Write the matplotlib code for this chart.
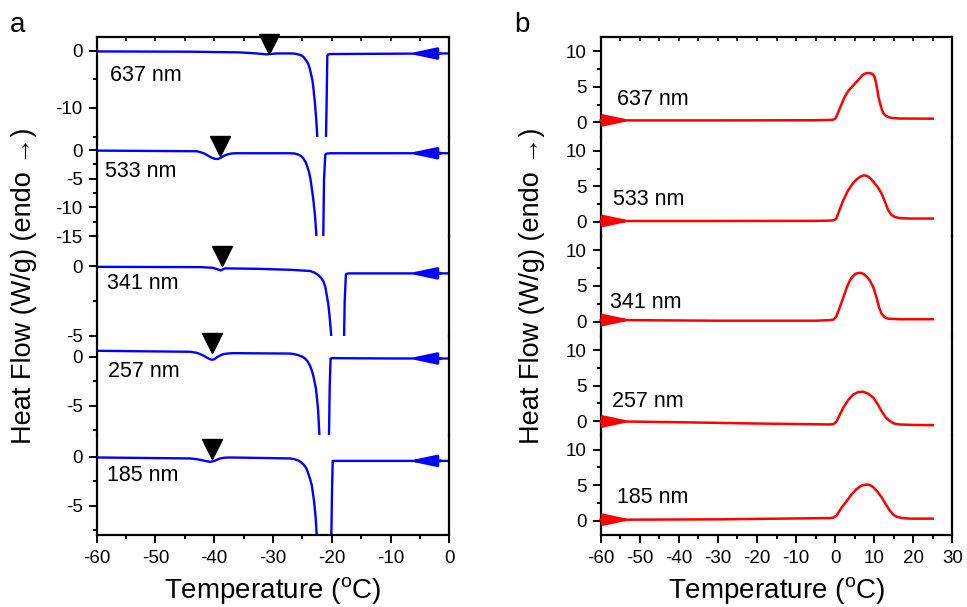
import numpy as np
import matplotlib
matplotlib.use("Agg")
import matplotlib.pyplot as plt
from matplotlib.ticker import MultipleLocator

plt.rcParams["font.family"] = ["Liberation Sans", "DejaVu Sans"]
plt.rcParams["axes.unicode_minus"] = False
plt.rcParams["mathtext.fontset"] = "custom"
plt.rcParams["mathtext.rm"] = "Liberation Sans"

samples = ["637 nm", "533 nm", "341 nm", "257 nm", "185 nm"]

# --- panel a: cooling scans (W/g), spikes run off-scale ---
cool_t_637 = [-60, -44.1, -35.6, -32.8, -31.1, -29.4, -27.1, -26.4, -25.97, -25.5, -25.1,
              -24.8, -24.55, -24.25, -23.99, -23.75, -23.53, -23.3, -23.14, -22.85, -22.63,
              -22.46, -22.35, -21.1, -20.98, -20.86, -20.76, -20.6, -20.3, -10, 0]
cool_hf_637 = [-0.12, -0.17, -0.29, -0.47, -0.64, -0.47, -0.47, -0.5, -0.58, -0.7, -0.87,
               -1.1, -1.45, -1.85, -2.33, -3.1, -4.07, -5.1, -6.4, -9.3, -12.2,
               -15.1, -40, -40, -15, -8.1, -0.87, -0.65, -0.58, -0.52, -0.47]

cool_t_533 = [-60, -43.0, -42.2, -41.6, -41.0, -40.4, -39.9, -39.4, -38.9, -38.3, -37.6,
              -36.9, -36.2, -27.1, -26.3, -25.7, -25.2, -24.8, -24.45, -24.15, -23.85,
              -23.6, -23.14, -22.85, -22.63, -22.5, -21.5, -21.44, -21.32, -21.1, -20.9,
              -20.3, -10, 0]
cool_hf_533 = [-0.09, -0.2, -0.4, -0.65, -1.0, -1.33, -1.52, -1.55, -1.35, -0.98, -0.7,
               -0.58, -0.55, -0.55, -0.6, -0.77, -1.05, -1.5, -2.1, -2.9, -3.9,
               -5.2, -8.6, -11.5, -14.6, -40, -40, -14.6, -5.2, -0.77, -0.62,
               -0.55, -0.55, -0.55]

cool_t_341 = [-60, -42.4, -40.2, -39.5, -38.9, -38.5, -38.2, -32.8, -27.1, -23.7, -23.0,
              -22.3, -21.8, -21.4, -21.1, -20.86, -20.6, -20.4, -20.1, -20.0, -18.0, -17.9,
              -17.8, -17.6, -17.3, -16.9, -10, 0]
cool_hf_341 = [-0.05, -0.07, -0.12, -0.22, -0.31, -0.22, -0.16, -0.19, -0.26, -0.35, -0.45,
               -0.64, -0.85, -1.11, -1.5, -2.06, -2.7, -3.48, -4.9, -40, -40, -4.9,
               -2.5, -0.59, -0.53, -0.52, -0.52, -0.52]

cool_t_257 = [-60, -44.1, -43.0, -42.4, -41.8, -41.3, -40.8, -40.4, -40.0, -39.6, -39.0,
              -38.45, -37.6, -36.75, -27.1, -26.4, -25.7, -25.1, -24.55, -24.1, -23.7,
              -23.4, -23.14, -22.68, -22.34, -22.1, -22.0, -20.5, -20.47, -20.35, -20.2,
              -20.0, -19.2, -10, 0]
cool_hf_257 = [0.58, 0.48, 0.38, 0.24, 0.08, -0.1, -0.25, -0.33, -0.28, -0.1, 0.1,
               0.24, 0.31, 0.34, 0.3, 0.24, 0.14, 0.0, -0.2, -0.5, -0.94,
               -1.4, -1.96, -3.3, -5.3, -8.0, -40, -40, -8.0, -2.97, -0.2,
               -0.17, -0.17, -0.2, -0.2]

cool_t_185 = [-60, -44.1, -43.2, -42.4, -41.5, -40.7, -40.0, -39.5, -39.0, -38.2, -37.3,
              -27.1, -26.4, -25.7, -25.2, -24.7, -24.3, -24.0, -23.7, -23.4, -23.0,
              -22.73, -22.56, -22.45, -20.1, -20.07, -19.96, -19.84, -19.6, -19.5, -10, 0]
cool_hf_185 = [-0.06, -0.16, -0.22, -0.3, -0.42, -0.51, -0.42, -0.28, -0.16, -0.08, -0.06,
               -0.16, -0.23, -0.37, -0.56, -0.85, -1.2, -1.7, -2.25, -2.9, -4.6,
               -6.3, -8.0, -40, -40, -8.0, -3.57, -0.41, -0.41, -0.41, -0.41, -0.41]

# glass transition marks (panel a)
tg_temps = [-30.7, -39.1, -38.7, -40.3, -40.4]
tg_marks = [1.2, 0.7, 0.7, 1.35, 0.8]

# --- panel b: heating scans (W/g) ---
heat_t_637 = [-60, -30, -5, -1, -0.5, 0, 0.4, 1.0, 1.7, 2.3, 3.0, 3.8, 4.65, 5.5, 6.4,
              7.0, 7.65, 8.5, 9.4, 9.9, 10.2, 10.5, 10.8, 11.1, 11.5, 11.9, 12.3, 12.9,
              13.6, 14.5, 16.6, 25]
heat_hf_637 = [0.28, 0.28, 0.3, 0.35, 0.38, 0.5, 0.9, 1.7, 2.6, 3.4, 4.1, 4.7, 5.2, 5.7,
               6.25, 6.65, 6.85, 6.95, 6.85, 6.6, 6.2, 5.5, 4.6, 3.6, 2.7, 1.9, 1.35, 0.95,
               0.75, 0.62, 0.54, 0.52]

heat_t_533 = [-60, -30, -5, -1, -0.3, 0.3, 1.0, 2.1, 3.2, 4.25, 5.3, 6.4, 7.3, 8.1, 9.0,
              9.8, 10.9, 11.9, 12.8, 13.6, 14.4, 15.3, 16.5, 19.2, 25]
heat_hf_533 = [0.14, 0.14, 0.15, 0.2, 0.25, 0.45, 1.5, 3.06, 4.3, 5.2, 5.9, 6.35, 6.55,
               6.5, 6.15, 5.65, 4.9, 4.0, 2.8, 1.65, 1.0, 0.7, 0.55, 0.48, 0.48]

heat_t_341 = [-60, -30, -5, -1.5, -0.45, 0.3, 1.2, 2.1, 3.0, 3.8, 4.6, 5.4, 6.4, 7.3,
              8.2, 8.9, 9.8, 10.6, 11.2, 11.9, 12.7, 13.6, 16.6, 25]
heat_hf_341 = [0.23, 0.12, 0.12, 0.2, 0.27, 0.7, 2.0, 3.4, 4.8, 5.8, 6.4, 6.75, 6.85, 6.7,
               6.25, 5.77, 4.8, 3.4, 2.1, 1.08, 0.6, 0.4, 0.33, 0.33]

heat_t_257 = [-60, -40, -20, -1.5, -0.45, 0.3, 1.2, 2.1, 3.4, 4.65, 5.9, 7.2, 8.5, 9.8,
              10.9, 11.9, 13.0, 14.05, 15.2, 16.6, 20, 25]
heat_hf_257 = [0.0, -0.15, -0.33, -0.46, -0.42, -0.1, 0.9, 1.9, 3.0, 3.76, 4.08, 4.14,
               3.85, 3.3, 2.4, 1.4, 0.5, 0.0, -0.35, -0.47, -0.53, -0.56]

heat_t_185 = [-60, -30, -1.3, -0.4, 0.4, 1.6, 3.0, 4.2, 5.5, 6.8, 8.1, 9.0, 9.8, 10.9,
              11.9, 13.0, 14.05, 14.9, 15.8, 17.2, 19.2, 25]
heat_hf_185 = [0.14, 0.2, 0.38, 0.45, 0.75, 1.8, 2.8, 3.7, 4.46, 4.95, 5.1, 5.0, 4.7,
               4.05, 3.3, 2.3, 1.4, 0.85, 0.56, 0.38, 0.3, 0.3]

cool_t = [cool_t_637, cool_t_533, cool_t_341, cool_t_257, cool_t_185]
cool_hf = [cool_hf_637, cool_hf_533, cool_hf_341, cool_hf_257, cool_hf_185]
heat_t = [heat_t_637, heat_t_533, heat_t_341, heat_t_257, heat_t_185]
heat_hf = [heat_hf_637, heat_hf_533, heat_hf_341, heat_hf_257, heat_hf_185]

# layout / styling
a_ylims = [(-15.0, 2.4), (-15.0, 2.35), (-5.0, 2.15), (-8.0, 2.1), (-8.0, 2.2)]
a_major = [10, 5, 5, 5, 5]
a_minor = [5, 2.5, 2.5, 2.5, 2.5]
a_label_pos = [(-57.7, -4.4), (-58.6, -3.8), (-58.3, -1.25), (-58.0, -1.5), (-58.3, -1.95)]
b_label_pos = [(-55.9, 3.2), (-56.8, 3.2), (-57.6, 2.7), (-57.2, 2.8), (-55.9, 3.3)]

fig = plt.figure(figsize=(9.67, 6.07), dpi=100)
top, bottom = 1 - 37 / 607, 1 - 535 / 607
h = (top - bottom) / 5


def style_axis(ax, i, xmin, xmax):
    ax.set_xlim(xmin, xmax)
    ax.set_facecolor("none")
    for s in ["left", "right", "top", "bottom"]:
        ax.spines[s].set_linewidth(1.6)
    ax.spines["top"].set_visible(i == 0)
    ax.spines["bottom"].set_visible(i == 4)
    ax.xaxis.set_major_locator(MultipleLocator(10))
    ax.xaxis.set_minor_locator(MultipleLocator(5))
    ax.tick_params(axis="y", which="both", direction="out", left=True, right=False,
                   labelsize=13.5, width=1.4, pad=4)
    ax.tick_params(axis="y", which="major", length=6)
    ax.tick_params(axis="y", which="minor", length=3)
    if i == 0:
        ax.tick_params(axis="x", which="both", top=True, bottom=False, labelbottom=False,
                       direction="in", length=3, width=1.2)
    elif i == 4:
        ax.tick_params(axis="x", which="both", top=False, bottom=True, direction="out",
                       labelsize=13.5, width=1.4, pad=5)
        ax.tick_params(axis="x", which="major", length=6)
        ax.tick_params(axis="x", which="minor", length=3)
    else:
        ax.tick_params(axis="x", which="both", top=False, bottom=False, labelbottom=False)


arrow_style = "-|>,head_length=0.8,head_width=0.17"

# panel a
for i in range(5):
    ax = fig.add_axes([96.7 / 967, top - (i + 1) * h, 352.6 / 967, h])
    style_axis(ax, i, -60, 0)
    ax.set_ylim(*a_ylims[i])
    ax.yaxis.set_major_locator(MultipleLocator(a_major[i]))
    ax.yaxis.set_minor_locator(MultipleLocator(a_minor[i]))
    ax.plot(cool_t[i], cool_hf[i], color="#0000ff", lw=1.7)
    ax.plot(tg_temps[i], tg_marks[i], marker="v", color="black", markersize=14.5,
            linestyle="none", clip_on=False, zorder=5)
    ya = np.interp(-4, cool_t[i], cool_hf[i])
    ax.annotate("", xy=(-7.0, ya), xytext=(-1.5, ya), annotation_clip=False,
                arrowprops=dict(arrowstyle=arrow_style, mutation_scale=20,
                                color="#0000ff", lw=2.2, shrinkA=0, shrinkB=0))
    ax.text(a_label_pos[i][0], a_label_pos[i][1], samples[i], fontsize=15.5,
            ha="left", va="center")

# panel b
for i in range(5):
    ax = fig.add_axes([600.7 / 967, top - (i + 1) * h, 351.6 / 967, h])
    style_axis(ax, i, -60, 30)
    ax.set_ylim(-2, 12)
    ax.yaxis.set_major_locator(MultipleLocator(5))
    ax.yaxis.set_minor_locator(MultipleLocator(2.5))
    ax.plot(heat_t[i], heat_hf[i], color="#ff0000", lw=1.8)
    ya = np.interp(-55, heat_t[i], heat_hf[i])
    ax.annotate("", xy=(-52.0, ya), xytext=(-60, ya), annotation_clip=False,
                arrowprops=dict(arrowstyle=arrow_style, mutation_scale=20,
                                color="#ff0000", lw=2.2, shrinkA=0, shrinkB=0))
    ax.text(b_label_pos[i][0], b_label_pos[i][1], samples[i], fontsize=15.5,
            ha="left", va="center")

ylab = "Heat Flow (W/g) (endo \u2192)"
xlab = r"Temperature ($^\mathregular{o}$C)"
mid_y = (top + bottom) / 2
fig.text(0.025, mid_y, ylab, rotation=90, fontsize=19.5, ha="center", va="center")
fig.text(0.55, mid_y, ylab, rotation=90, fontsize=19.5, ha="center", va="center")
fig.text(273 / 967, 0.013, xlab, fontsize=20, ha="center", va="baseline")
fig.text(776.5 / 967, 0.013, xlab, fontsize=20, ha="center", va="baseline")
fig.text(0.010, 1 - 32 / 607, "a", fontsize=20, ha="left", va="baseline")
fig.text(0.532, 1 - 32 / 607, "b", fontsize=20, ha="left", va="baseline")

fig.savefig("out.png", dpi=100)
